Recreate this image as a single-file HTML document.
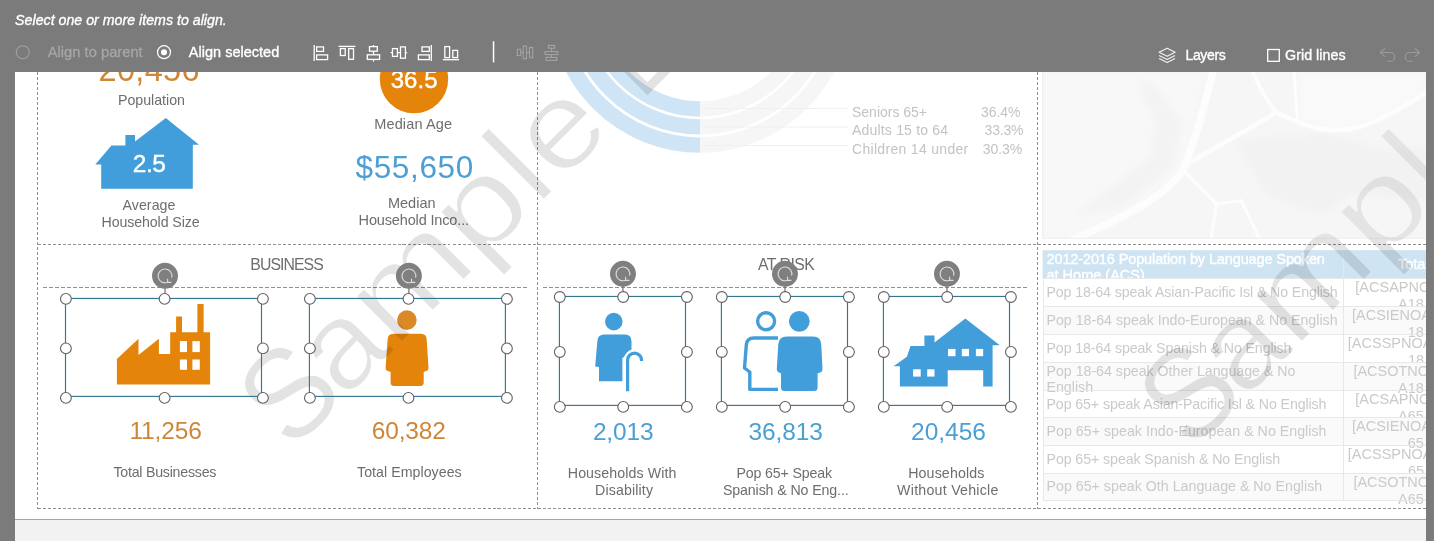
<!DOCTYPE html>
<html><head><meta charset="utf-8">
<style>
html,body{margin:0;padding:0;}
body{width:1434px;height:541px;overflow:hidden;background:#7b7b7b;font-family:"Liberation Sans",sans-serif;position:relative;}
#canvas{position:absolute;left:15px;top:72px;width:1411px;height:447px;background:#fff;overflow:hidden;}
#foot{position:absolute;left:15px;top:519px;width:1411px;height:22px;background:#f2f2f2;border-top:1px solid #a4a4a4;box-sizing:border-box;}
svg.ly{position:absolute;left:0;top:0;}
#tbar{position:absolute;left:0;top:0;width:1434px;height:72px;background:#7b7b7b;}
.t{position:absolute;white-space:nowrap;line-height:1;}
.cl{position:absolute;overflow:hidden;}
.rb{position:absolute;background:#fafafa;}
.hl{position:absolute;height:1px;background:#e8e8e8;}
.vl{position:absolute;width:1px;background:#e8e8e8;}
#texts{position:absolute;left:0;top:0;width:1426px;height:519px;overflow:hidden;will-change:transform;}
#tbtexts{position:absolute;left:0;top:0;width:1434px;height:72px;will-change:transform;}
#wm{position:absolute;left:15px;top:72px;width:1411px;height:447px;overflow:hidden;pointer-events:none;}
.wm{position:absolute;white-space:nowrap;line-height:1;color:rgba(0,0,0,0.11);transform-origin:0 0;}
</style></head><body>
<div id="canvas"></div>
<div id="foot"></div>
<svg class="ly" width="1434" height="541" viewBox="0 0 1434 541">
<defs>
<clipPath id="cv"><rect x="15" y="72" width="1411" height="447"/></clipPath>
<clipPath id="mapc"><rect x="1042.2" y="72" width="384" height="166.8"/></clipPath>
<filter id="bl" x="-20%" y="-20%" width="140%" height="140%"><feGaussianBlur stdDeviation="3"/></filter>
</defs>
<g clip-path="url(#cv)">
<!-- map -->
<g clip-path="url(#mapc)">
<rect x="1042" y="72" width="385" height="168" fill="#f2f2f2"/>
<path d="M1043 72 H1205 L1185 165 L1140 207 L1076 237 L1043 238 Z" fill="#f5f5f5" filter="url(#bl)"/>
<path d="M1139.4 81 L1156.9 88 L1181.5 123.2 L1174.5 165.4 L1121.8 207.5 L1076.1 214.5 L1104.2 193.4 L1149.9 158.3 L1156.9 123.2 L1142.9 95 Z" fill="#eeeeee" filter="url(#bl)"/>
<path d="M1297 72 H1426 V95 L1395 113 L1360 127 L1332 132 L1300 123 Z" fill="#f6f6f6" filter="url(#bl)"/>
<path d="M1237.7 140.8 L1325.5 133.7 L1385.2 151.3 L1426 147.8 L1426 200.5 L1350.1 193.4 L1322 214.5 L1265.8 193.4 Z" fill="#ececec" filter="url(#bl)"/>
<g fill="none" stroke="#fdfdfd" stroke-linecap="round" stroke-linejoin="round">
<path d="M1213.5 70 L1206 98.6 L1197.3 130.2 L1185 165.4 C1178 180 1160 195 1139.4 207.5 C1120 218 1100 228 1074 239" stroke-width="7.5"/>
<path d="M1185 165.4 L1230.7 139 L1276.3 112.7 L1300.9 123.2 C1320 131 1340 132 1360.6 126.7 C1375 122 1395 113 1428 91" stroke-width="4.5"/>
<path d="M1251.7 70 L1264 95.1 L1276.3 112.7" stroke-width="3.8"/>
<path d="M1293.9 70 L1297.4 119.7" stroke-width="3"/>
<path d="M1185 172.4 L1216.6 204 L1241.2 200.5 L1259.5 239" stroke-width="3"/>
<path d="M1216.6 204 L1211 239" stroke-width="3"/>
</g>
<rect x="1042.7" y="71.5" width="385" height="166.8" fill="none" stroke="#e4e4e4" stroke-width="1"/>
</g>
<!-- donut -->
<g fill="none" stroke-width="15.4">
<path d="M700 109.0 A107.5 107.5 0 0 1 592.5 1.5" stroke="#cfe5f5"/>
<path d="M700 126.9 A125.4 125.4 0 0 1 574.6 1.5" stroke="#cfe5f5"/>
<path d="M700 145.1 A143.6 143.6 0 0 1 556.4 1.5" stroke="#cfe5f5"/>
<path d="M700 109.0 A107.5 107.5 0 0 0 807.5 1.5" stroke="#f6f6f6"/>
<path d="M700 126.9 A125.4 125.4 0 0 0 825.4 1.5" stroke="#f6f6f6"/>
<path d="M700 145.1 A143.6 143.6 0 0 0 843.6 1.5" stroke="#f6f6f6"/>
</g>
<g stroke="#f0f0f0" stroke-width="1">
<path d="M705 108.5 H848 M705 127 H848 M705 145.5 H848"/>
</g>
<!-- table -->
<rect x="1042.6" y="250.2" width="384" height="28" fill="#cfe4f3"/>
<path d="M1343.6 250.6 V278" stroke="#dcebf5" stroke-width="1"/>
<!-- dashed layout lines -->
<g stroke="#909090" stroke-width="1" stroke-dasharray="3 2" fill="none" shape-rendering="crispEdges">
<path d="M37.5 72 V508.5 M537.5 72 V508.5 M1037.5 72 V508.5"/>
<path d="M37.5 244.5 H1426 M37.5 508.5 H1426"/>
<path d="M43 287.5 H527 M543 287.5 H1027" stroke-dasharray="4 2"/>
</g>
<!-- orange circle -->
<circle cx="414" cy="79.1" r="34.2" fill="#e5840a"/>
<!-- blue house top-left -->
<path d="M165.8 118 L199 144.7 L192.8 144.7 L192.8 188.8 L101.2 188.8 L101.2 164.5 L95.3 164.5 L111.4 145.6 L125.4 145.6 L125.4 135 L135 135 L135 141.5 Z" fill="#419eda"/>
<!-- factory -->
<path d="M116.9 384.6 L116.9 358.9 L138.5 338.8 L138.5 355 L158.9 338.8 L158.9 354.1 L170.2 354.1 L170.2 332.2 L176.1 332.2 L176.1 316.6 L182 316.6 L182 332.2 L197.4 332.2 L197.4 304.1 L203.6 304.1 L203.6 332.2 L210.1 332.2 L210.1 384.6 Z" fill="#e5840a"/>
<g fill="#fff"><rect x="179.9" y="341.1" width="7.1" height="11"/><rect x="192.4" y="341.1" width="7.4" height="11"/><rect x="179.9" y="359.5" width="7.1" height="10.3"/><rect x="192.4" y="359.5" width="7.4" height="10.3"/></g>
<!-- orange person -->
<circle cx="406.9" cy="320.1" r="9.8" fill="#d98a26"/>
<path d="M393.6 333.7 H420.7 Q426.7 333.7 426.7 339.7 L428.5 367.8 Q428.5 370.8 425.5 371.3 L423.7 372 V382.6 Q423.7 386.1 420.2 386.1 H394.1 Q390.6 386.1 390.6 382.6 V372 L388.6 371.3 Q385.6 370.8 385.6 367.8 L387.6 339.7 Q387.6 333.7 393.6 333.7 Z" fill="#e5840a"/>
<!-- blue person with cane -->
<circle cx="613.8" cy="321.6" r="8.8" fill="#419eda"/>
<path d="M604.5 334.5 H625 Q631.5 334.5 631.5 341.5 V352 L622.4 358 V381.3 H599 V367 L595.2 366.4 L597.3 341.5 Q597.3 334.5 604.5 334.5 Z" fill="#419eda"/>
<path d="M627.6 391.3 V360 A6.95 6.95 0 0 1 641.5 360 V361.5" fill="none" stroke="#fff" stroke-width="7.6"/>
<path d="M627.6 391.3 V360 A6.95 6.95 0 0 1 641.5 360 V361" fill="none" stroke="#419eda" stroke-width="3.2"/>
<!-- two persons -->
<circle cx="766.1" cy="321.3" r="8.5" fill="none" stroke="#419eda" stroke-width="3.4"/>
<path d="M778 338 H754 Q746.8 338 746.3 345 L744.5 368 L749.8 372 V389.4 H778" fill="none" stroke="#419eda" stroke-width="3.4" stroke-linejoin="round"/>
<circle cx="799.3" cy="321.3" r="10.4" fill="#419eda"/>
<path d="M787 336.6 H813 Q821 336.6 821.3 345 L822.5 369 Q822.5 372 819.5 372.8 L817.6 373.3 V387.6 Q817.6 391.1 814.1 391.1 H784.5 Q781 391.1 781 387.6 V373.3 L779.6 372.8 Q776.8 372 776.8 369 L778.2 345 Q778.5 336.6 787 336.6 Z" fill="#419eda"/>
<!-- blue house 2 -->
<path d="M965.3 318.5 L999.8 345.2 L992.6 345.2 L992.6 386.6 L983.2 386.6 L983.2 370.2 L947.7 370.2 L947.7 386.6 L899.9 386.6 L899.9 366.2 L893.6 366.2 L906.9 356.8 L910.5 346 L924.4 346 L924.4 335.4 L934.5 335.4 L934.5 342.5 Z" fill="#419eda"/>
<g fill="#fff"><rect x="948" y="348.9" width="7.5" height="7.3"/><rect x="961.8" y="348.9" width="7.2" height="7.3"/><rect x="975.9" y="348.9" width="7.3" height="7.3"/><rect x="913.1" y="369.3" width="7.6" height="7.3"/><rect x="927.2" y="369.3" width="7.3" height="7.3"/></g>
</g>
</svg>

<div id="texts">
<div class="t" style="left:98.5px;top:54.1px;font-size:32.5px;letter-spacing:0.32px;color:#cf8636;">20,456</div>
<div class="t" style="left:118.0px;top:93.2px;font-size:14.2px;letter-spacing:-0.01px;color:#6e6e6e;">Population</div>
<div class="t" style="left:132.7px;top:152.3px;font-size:24.5px;letter-spacing:-0.43px;color:#fff;-webkit-text-stroke:0.4px #fff;">2.5</div>
<div class="t" style="left:122.6px;top:198.2px;font-size:14.2px;letter-spacing:0.03px;color:#6e6e6e;">Average</div>
<div class="t" style="left:101.5px;top:214.7px;font-size:14.2px;letter-spacing:-0.10px;color:#6e6e6e;">Household Size</div>
<div class="t" style="left:390.7px;top:68.1px;font-size:24px;letter-spacing:0.03px;color:#fff;-webkit-text-stroke:0.4px #fff;">36.5</div>
<div class="t" style="left:374.3px;top:116.6px;font-size:14.5px;letter-spacing:0.12px;color:#6e6e6e;">Median Age</div>
<div class="t" style="left:355.5px;top:151.8px;font-size:31.5px;letter-spacing:0.65px;color:#4b9fd5;">$55,650</div>
<div class="t" style="left:387.9px;top:195.8px;font-size:14.5px;letter-spacing:0.03px;color:#6e6e6e;">Median</div>
<div class="t" style="left:358.6px;top:212.6px;font-size:14.5px;letter-spacing:-0.15px;color:#6e6e6e;">Household Inco...</div>
<div class="t" style="left:852.0px;top:105.4px;font-size:14px;letter-spacing:-0.01px;color:#c3c3c3;">Seniors 65+</div>
<div class="t" style="left:981.0px;top:105.4px;font-size:14px;letter-spacing:-0.05px;color:#c3c3c3;">36.4%</div>
<div class="t" style="left:852.0px;top:123.3px;font-size:14px;letter-spacing:0.19px;color:#c3c3c3;">Adults 15 to 64</div>
<div class="t" style="left:984.6px;top:123.3px;font-size:14px;letter-spacing:-0.18px;color:#c3c3c3;">33.3%</div>
<div class="t" style="left:852.0px;top:142.4px;font-size:14px;letter-spacing:0.31px;color:#c3c3c3;">Children 14 under</div>
<div class="t" style="left:982.8px;top:142.4px;font-size:14px;letter-spacing:-0.08px;color:#c3c3c3;">30.3%</div>
<div class="t" style="left:250.3px;top:256.6px;font-size:15.8px;letter-spacing:-0.93px;color:#6e6e6e;">BUSINESS</div>
<div class="t" style="left:758.0px;top:256.6px;font-size:15.8px;letter-spacing:-0.53px;color:#6e6e6e;">AT RISK</div>
<div class="t" style="left:129.4px;top:418.6px;font-size:24.5px;letter-spacing:-0.12px;color:#cf8636;">11,256</div>
<div class="t" style="left:371.8px;top:418.6px;font-size:24.5px;letter-spacing:-0.17px;color:#cf8636;">60,382</div>
<div class="t" style="left:113.4px;top:464.6px;font-size:14.2px;letter-spacing:-0.23px;color:#6e6e6e;">Total Businesses</div>
<div class="t" style="left:357.0px;top:464.6px;font-size:14.2px;letter-spacing:0.04px;color:#6e6e6e;">Total Employees</div>
<div class="t" style="left:592.9px;top:419.7px;font-size:24.5px;letter-spacing:-0.15px;color:#4b9fd5;">2,013</div>
<div class="t" style="left:748.5px;top:419.7px;font-size:24.5px;letter-spacing:-0.09px;color:#4b9fd5;">36,813</div>
<div class="t" style="left:911.0px;top:419.7px;font-size:24.5px;letter-spacing:0.01px;color:#4b9fd5;">20,456</div>
<div class="t" style="left:567.8px;top:465.5px;font-size:14.2px;letter-spacing:0.09px;color:#6e6e6e;">Households With</div>
<div class="t" style="left:595.0px;top:483.4px;font-size:14.2px;letter-spacing:0.14px;color:#6e6e6e;">Disability</div>
<div class="t" style="left:736.4px;top:465.5px;font-size:14.2px;letter-spacing:-0.14px;color:#6e6e6e;">Pop 65+ Speak</div>
<div class="t" style="left:722.9px;top:483.4px;font-size:14.2px;letter-spacing:-0.11px;color:#6e6e6e;">Spanish &amp; No Eng...</div>
<div class="t" style="left:908.2px;top:465.5px;font-size:14.2px;letter-spacing:0.14px;color:#6e6e6e;">Households</div>
<div class="t" style="left:897.1px;top:483.4px;font-size:14.2px;letter-spacing:0.25px;color:#6e6e6e;">Without Vehicle</div>
<div class="t" style="left:1046.5px;top:252.2px;font-size:14.5px;letter-spacing:-0.12px;color:#fff;-webkit-text-stroke:0.35px #fff;">2012-2016 Population by Language Spoken</div>
<div class="t" style="left:1046.5px;top:267.7px;font-size:14.5px;color:#fff;-webkit-text-stroke:0.35px #fff;">at Home (ACS)</div>
<div class="t" style="left:1398.0px;top:257.0px;font-size:14.5px;color:#fff;-webkit-text-stroke:0.35px #fff;">Total</div>
<div class="t" style="left:1046.5px;top:285.2px;font-size:14.2px;letter-spacing:-0.12px;color:#cacaca;">Pop 18-64 speak Asian-Pacific Isl &amp; No English</div>
<div class="t" style="left:1355.3px;top:279.8px;font-size:14.5px;color:#cacaca;">[ACSAPNO</div>
<div class="t" style="left:1398.0px;top:296.7px;font-size:14.5px;color:#cacaca;">A18</div>
<div class="rb" style="left:1042.6px;top:306.4px;width:384px;height:27.9px"></div>
<div class="t" style="left:1046.5px;top:313.1px;font-size:14.2px;color:#cacaca;">Pop 18-64 speak Indo-European &amp; No English</div>
<div class="t" style="left:1352.0px;top:308.0px;font-size:14.5px;color:#cacaca;">[ACSIENOA</div>
<div class="t" style="left:1407.8px;top:324.9px;font-size:14.5px;color:#cacaca;">18</div>
<div class="t" style="left:1046.5px;top:341.0px;font-size:14.2px;letter-spacing:-0.10px;color:#cacaca;">Pop 18-64 speak Spanish &amp; No English</div>
<div class="t" style="left:1347.8px;top:335.9px;font-size:14.5px;color:#cacaca;">[ACSSPNOA</div>
<div class="t" style="left:1408.0px;top:352.8px;font-size:14.5px;color:#cacaca;">18</div>
<div class="rb" style="left:1042.6px;top:362.2px;width:384px;height:28.1px"></div>
<div class="t" style="left:1046.5px;top:363.8px;font-size:14.2px;letter-spacing:-0.01px;color:#cacaca;">Pop 18-64 speak Other Language &amp; No</div>
<div class="t" style="left:1046.5px;top:380.0px;font-size:14.2px;color:#cacaca;">English</div>
<div class="t" style="left:1353.4px;top:363.8px;font-size:14.5px;color:#cacaca;">[ACSOTNO</div>
<div class="t" style="left:1398.0px;top:380.7px;font-size:14.5px;color:#cacaca;">A18</div>
<div class="t" style="left:1046.5px;top:396.7px;font-size:14.2px;letter-spacing:-0.10px;color:#cacaca;">Pop 65+ speak Asian-Pacific Isl &amp; No English</div>
<div class="t" style="left:1355.3px;top:391.9px;font-size:14.5px;color:#cacaca;">[ACSAPNO</div>
<div class="t" style="left:1398.0px;top:408.8px;font-size:14.5px;color:#cacaca;">A65</div>
<div class="rb" style="left:1042.6px;top:417.4px;width:384px;height:28.1px"></div>
<div class="t" style="left:1046.5px;top:423.8px;font-size:14.2px;letter-spacing:0.03px;color:#cacaca;">Pop 65+ speak Indo-European &amp; No English</div>
<div class="t" style="left:1352.0px;top:419.0px;font-size:14.5px;color:#cacaca;">[ACSIENOA</div>
<div class="t" style="left:1407.8px;top:435.9px;font-size:14.5px;color:#cacaca;">65</div>
<div class="t" style="left:1046.5px;top:451.7px;font-size:14.2px;letter-spacing:-0.08px;color:#cacaca;">Pop 65+ speak Spanish &amp; No English</div>
<div class="t" style="left:1347.8px;top:447.1px;font-size:14.5px;color:#cacaca;">[ACSSPNOA</div>
<div class="t" style="left:1408.0px;top:464.0px;font-size:14.5px;color:#cacaca;">65</div>
<div class="rb" style="left:1042.6px;top:473.4px;width:384px;height:27.1px"></div>
<div class="t" style="left:1046.5px;top:478.7px;font-size:14.2px;letter-spacing:0.02px;color:#cacaca;">Pop 65+ speak Oth Language &amp; No English</div>
<div class="t" style="left:1353.4px;top:475.0px;font-size:14.5px;color:#cacaca;">[ACSOTNO</div>
<div class="t" style="left:1398.0px;top:491.9px;font-size:14.5px;color:#cacaca;">A65</div>
<div class="hl" style="left:1042.6px;top:277.7px;width:384px"></div><div class="hl" style="left:1042.6px;top:305.9px;width:384px"></div><div class="hl" style="left:1042.6px;top:333.8px;width:384px"></div><div class="hl" style="left:1042.6px;top:361.7px;width:384px"></div><div class="hl" style="left:1042.6px;top:389.8px;width:384px"></div><div class="hl" style="left:1042.6px;top:416.9px;width:384px"></div><div class="hl" style="left:1042.6px;top:445.0px;width:384px"></div><div class="hl" style="left:1042.6px;top:472.9px;width:384px"></div><div class="hl" style="left:1042.6px;top:500.0px;width:384px"></div><div class="vl" style="left:1042.6px;top:278px;height:222.5px"></div><div class="vl" style="left:1343.1px;top:278px;height:222.5px"></div>
</div>
<svg class="ly" width="1434" height="541" viewBox="0 0 1434 541">
<defs>
<clipPath id="cv3"><rect x="15" y="72" width="1411" height="447"/></clipPath>
<g id="wmt" font-family="Liberation Sans" font-size="129" fill="#fff" stroke="#000" stroke-width="1.2"><text x="-113.5" y="0" font-size="129" stroke-width="1.0" textLength="80" lengthAdjust="spacingAndGlyphs">S</text><text x="-39.8" y="0" font-size="123" stroke-width="2.0" textLength="72" lengthAdjust="spacingAndGlyphs">a</text><text x="32.2" y="0" font-size="123" stroke-width="2.0" textLength="119.1" lengthAdjust="spacingAndGlyphs">m</text><text x="151.3" y="0" font-size="123" stroke-width="2.0" textLength="82" lengthAdjust="spacingAndGlyphs">p</text><text x="233.3" y="0" font-size="125" stroke-width="2.2" textLength="32.2" lengthAdjust="spacingAndGlyphs">l</text><text x="265.5" y="0" font-size="123" stroke-width="2.0" textLength="76.9" lengthAdjust="spacingAndGlyphs">e</text></g>
<mask id="wmm" maskUnits="userSpaceOnUse" x="0" y="0" width="1434" height="541">
<rect width="1434" height="541" fill="#000"/>
<use href="#wmt" transform="translate(372.1,372.1) rotate(-45)"/>
<use href="#wmt" transform="translate(1272.1,372.1) rotate(-45)"/>
<path d="M607.3 48.8 L647.3 88.8 L687.3 48.8" fill="none" stroke="#fff" stroke-width="9"/>
</mask>
</defs>
<g clip-path="url(#cv3)"><rect width="1434" height="541" fill="rgba(0,0,0,0.11)" mask="url(#wmm)"/></g>
</svg>

<svg class="ly" width="1434" height="541" viewBox="0 0 1434 541">
<defs>
<clipPath id="cv2"><rect x="15" y="72" width="1411" height="447"/></clipPath>
<clipPath id="mapc2"><rect x="1043" y="72" width="383" height="166"/></clipPath>
<g id="hd"><circle r="5.4" fill="#fff" stroke="#635f63" stroke-width="1.1"/></g>
<g id="rot"><circle r="13" fill="#7f7f7f"/><path d="M 2.6 6.4 A 6.9 6.9 0 1 1 6.66 1.79" fill="none" stroke="#dedede" stroke-width="1.1"/><path d="M 2.6 3 L 2.6 6.5 L 6.4 6.5" fill="none" stroke="#dedede" stroke-width="1.1"/></g>
</defs>
<g clip-path="url(#cv2)">
<rect x="1042.2" y="72" width="384" height="166.8" fill="rgba(255,255,255,0.3)"/>
<!-- selection boxes -->
<g fill="none" stroke="#33778f" stroke-width="1.15">
<rect x="65.5" y="298.45" width="196.00" height="97.95"/>
<rect x="309.4" y="298.45" width="196.00" height="97.95"/>
<rect x="559.4" y="296.45" width="126.10" height="108.95"/>
<rect x="721.4" y="296.45" width="126.10" height="108.95"/>
<rect x="883.4" y="296.45" width="126.10" height="108.95"/>
</g>
<g stroke="#6f6f6f" stroke-width="1.2">
<path d="M165.0 287.85 V293.9"/>
<path d="M408.9 287.85 V293.9"/>
<path d="M622.96 285.87 V292"/>
<path d="M784.96 285.87 V292"/>
<path d="M946.96 285.87 V292"/>
</g>
<use href="#rot" x="165.0" y="275.85"/>
<use href="#hd" x="65.9" y="298.9"/>
<use href="#hd" x="65.9" y="348.4"/>
<use href="#hd" x="65.9" y="397.9"/>
<use href="#hd" x="164.6" y="298.9"/>
<use href="#hd" x="164.6" y="397.9"/>
<use href="#hd" x="262.9" y="298.9"/>
<use href="#hd" x="262.9" y="348.4"/>
<use href="#hd" x="262.9" y="397.9"/>
<use href="#rot" x="408.9" y="275.85"/>
<use href="#hd" x="309.9" y="298.9"/>
<use href="#hd" x="309.9" y="348.4"/>
<use href="#hd" x="309.9" y="397.9"/>
<use href="#hd" x="408.5" y="298.9"/>
<use href="#hd" x="408.5" y="397.9"/>
<use href="#hd" x="506.9" y="298.9"/>
<use href="#hd" x="506.9" y="348.4"/>
<use href="#hd" x="506.9" y="397.9"/>
<use href="#rot" x="622.96" y="273.87"/>
<use href="#hd" x="559.8" y="297"/>
<use href="#hd" x="559.8" y="351.95"/>
<use href="#hd" x="559.8" y="406.9"/>
<use href="#hd" x="623.2" y="297"/>
<use href="#hd" x="623.2" y="406.9"/>
<use href="#hd" x="686.9" y="297"/>
<use href="#hd" x="686.9" y="351.95"/>
<use href="#hd" x="686.9" y="406.9"/>
<use href="#rot" x="784.96" y="273.87"/>
<use href="#hd" x="721.8" y="297"/>
<use href="#hd" x="721.8" y="351.95"/>
<use href="#hd" x="721.8" y="406.9"/>
<use href="#hd" x="785.2" y="297"/>
<use href="#hd" x="785.2" y="406.9"/>
<use href="#hd" x="848.9" y="297"/>
<use href="#hd" x="848.9" y="351.95"/>
<use href="#hd" x="848.9" y="406.9"/>
<use href="#rot" x="946.96" y="273.87"/>
<use href="#hd" x="883.8" y="297"/>
<use href="#hd" x="883.8" y="351.95"/>
<use href="#hd" x="883.8" y="406.9"/>
<use href="#hd" x="947.2" y="297"/>
<use href="#hd" x="947.2" y="406.9"/>
<use href="#hd" x="1010.9" y="297"/>
<use href="#hd" x="1010.9" y="351.95"/>
<use href="#hd" x="1010.9" y="406.9"/>
</g>
</svg>

<div id="tbar"></div>
<svg class="ly" width="1434" height="72" viewBox="0 0 1434 72">
<!-- toolbar icons -->
<g fill="none" stroke="#fff" stroke-width="1.3">
<path d="M314.2 44.9 V61.1"/><rect x="316.6" y="46.9" width="6.9" height="4.5"/><rect x="316.6" y="54.9" width="11" height="4.7"/>
<path d="M338.5 46.4 H355.4"/><rect x="340.4" y="48.6" width="4.8" height="6.9"/><rect x="348.7" y="48.6" width="4.8" height="10.7"/>
<path d="M373.5 44.9 V46.6 M373.5 51.2 V54.8 M373.5 59.4 V61.5"/><rect x="369.5" y="46.6" width="7.8" height="4.6"/><rect x="367.3" y="54.8" width="12.3" height="4.6"/>
<path d="M390.6 52.6 H392.5 M397.4 52.6 H400.5 M405.4 52.6 H407.2"/><rect x="392.5" y="48.6" width="4.9" height="7.8"/><rect x="400.5" y="46.9" width="4.9" height="11.3"/>
<path d="M431.3 44.9 V61.1"/><rect x="422" y="46.9" width="7.3" height="4.5"/><rect x="418.4" y="54.9" width="10.9" height="4.7"/>
<path d="M442.8 59.7 H459.1"/><rect x="444.8" y="46.6" width="4.8" height="11"/><rect x="452.8" y="50.4" width="4.8" height="7.2"/>
</g>
<rect x="492.8" y="41.2" width="1.5" height="21.3" fill="#fff"/>
<g fill="none" stroke="#a4a4a4" stroke-width="1.1">
<rect x="517.3" y="49.3" width="3.4" height="6.3"/><rect x="523.2" y="46.1" width="3.3" height="12.6"/><rect x="529.5" y="47.5" width="3.3" height="10.2"/><path d="M520.7 52.5 H523.2 M526.5 52.5 H529.5"/>
<rect x="548.4" y="45.4" width="6.3" height="2.8"/><rect x="545.1" y="51.6" width="12.6" height="3"/><rect x="546" y="57.4" width="10.8" height="3"/><path d="M551.5 48.2 V51.6 M551.5 54.6 V57.4"/>
</g>
<!-- radios -->
<circle cx="22.8" cy="52.2" r="6.5" fill="none" stroke="#a0a0a0" stroke-width="1.1"/>
<circle cx="164" cy="52.2" r="6.5" fill="none" stroke="#fff" stroke-width="1.25"/><circle cx="164" cy="52.2" r="3" fill="#fff"/>
<!-- layers icon -->
<g fill="none" stroke="#f2f2f2" stroke-width="1.1" stroke-linejoin="round">
<path d="M1167.1 48.2 L1175.1 52.2 L1167.1 56.2 L1159.1 52.2 Z"/>
<path d="M1159.1 55.4 L1167.1 59.4 L1175.1 55.4"/>
<path d="M1159.1 58.6 L1167.1 62.6 L1175.1 58.6"/>
</g>
<rect x="1267.7" y="49.5" width="11.6" height="11.8" fill="none" stroke="#fff" stroke-width="1.3"/>
<g fill="none" stroke="#9a9a9a" stroke-width="1.1" stroke-linecap="round" stroke-linejoin="round">
<path d="M1384.8 48.4 L1380.3 52.5 L1384.8 56.6 M1380.3 52.5 H1390.3 A4.4 4.4 0 0 1 1390.3 61.3 H1387.5"/>
<path d="M1415.1 48.4 L1419.6 52.5 L1415.1 56.6 M1419.6 52.5 H1409.6 A4.4 4.4 0 0 0 1409.6 61.3 H1412.4"/>
</g>
</svg>

<div id="tbtexts">
<div class="t" style="left:15.1px;top:13.1px;font-size:14.2px;letter-spacing:0.01px;color:#fff;-webkit-text-stroke:0.35px #fff;font-style:italic;">Select one or more items to align.</div>
<div class="t" style="left:47.7px;top:44.8px;font-size:14.7px;letter-spacing:0.02px;color:#a6a6a6;-webkit-text-stroke:0.3px #a6a6a6;">Align to parent</div>
<div class="t" style="left:188.8px;top:44.9px;font-size:14.5px;letter-spacing:0.01px;color:#fff;-webkit-text-stroke:0.35px #fff;">Align selected</div>
<div class="t" style="left:1185.5px;top:48.2px;font-size:14px;letter-spacing:-0.37px;color:#fff;-webkit-text-stroke:0.35px #fff;">Layers</div>
<div class="t" style="left:1285.1px;top:48.0px;font-size:14.3px;letter-spacing:0.01px;color:#fff;-webkit-text-stroke:0.35px #fff;">Grid lines</div>
</div>
</body></html>
